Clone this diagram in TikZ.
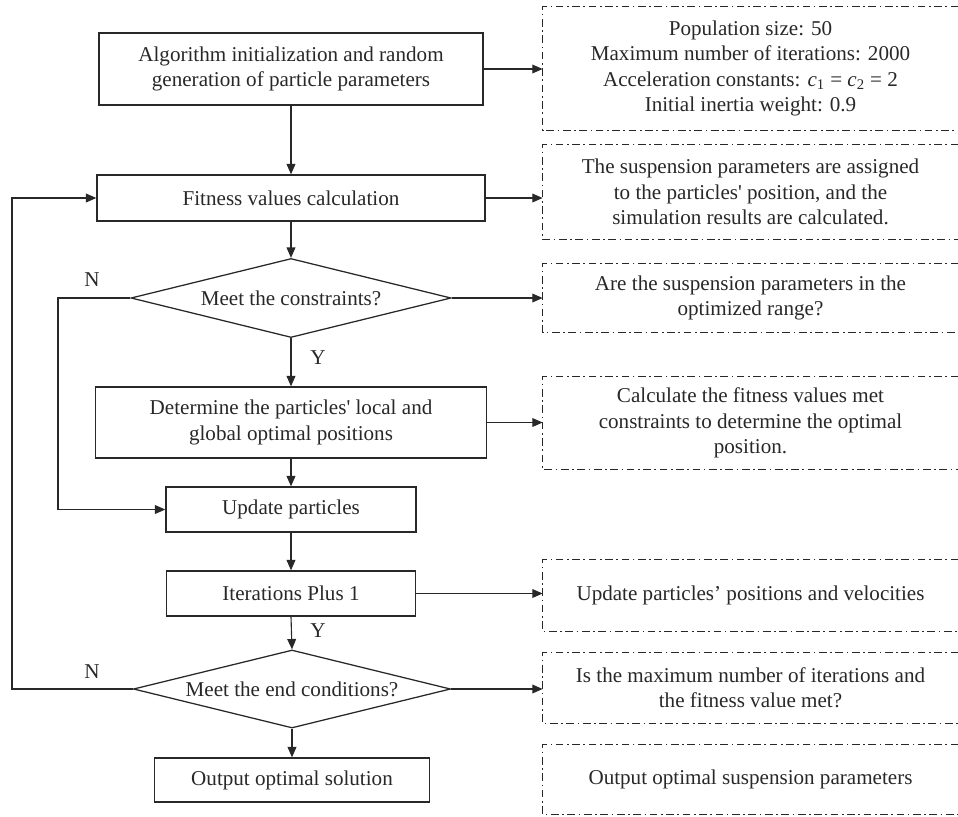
\documentclass[tikz,border=0pt]{standalone}
\usepackage{fontspec}
\setmainfont{Liberation Serif}
\usepackage{tikz}
\usetikzlibrary{arrows.meta,shapes.geometric,positioning}
\definecolor{lineColor}{RGB}{40,40,40}
\tikzstyle{flowChart} = [x = 0.025cm, y = -0.025cm, font=\fontsize{15}{18}\selectfont, every node/.style={text=lineColor}]
\tikzstyle{processBox} = [draw=lineColor, line width=0.9pt, rectangle, align=center, inner sep=0pt]
\tikzstyle{decisionShape} = [draw=lineColor, line width=0.9pt, diamond, aspect=4, inner sep=0pt]
\tikzstyle{noteText} = [rectangle, align=center, inner sep=0pt, minimum width=10.375cm]
\tikzstyle{noteBorder} = [draw=lineColor, line width=0.6pt, dash pattern=on 5.5pt off 2.5pt on 1.2pt off 2.5pt]
\tikzstyle{flowArrow} = [draw=lineColor, line width=0.8pt, -{Triangle[length=2.6mm, width=2.2mm]}]
\tikzstyle{branchLabel} = [inner sep=0pt]
\newcommand{\noteFrame}[1]{\draw [noteBorder] (#1.north east) -- (#1.north west) -- (#1.south west) -- (#1.south east);}
\newcommand{\accConst}[1]{\textit{c}\textsubscript{#1}}
\begin{document}
\begin{tikzpicture}[flowChart]
  \useasboundingbox (0,0) rectangle (958,816);

  \node [processBox, minimum width=9.6cm, minimum height=1.8cm] (init) at (291,69) {Algorithm initialization and random\\generation of particle parameters};
  \node [processBox, minimum width=9.7cm, minimum height=1.15cm] (fitness) at (291,198) {Fitness values calculation};
  \node [decisionShape, minimum width=8cm, minimum height=1.975cm] (constraints) at (291,298) {Meet the constraints?};
  \node [processBox, minimum width=9.775cm, minimum height=1.775cm] (determine) at (291,422.5) {Determine the particles\textquotesingle{} local and\\global optimal positions};
  \node [processBox, minimum width=6.25cm, minimum height=1.125cm] (update) at (291,509.5) {Update particles};
  \node [processBox, minimum width=6.225cm, minimum height=1.125cm] (iterations) at (291,593.5) {Iterations Plus 1};
  \node [decisionShape, minimum width=7.925cm, minimum height=1.95cm] (endCheck) at (292,689) {Meet the end conditions?};
  \node [processBox, minimum width=6.875cm, minimum height=1.1cm] (output) at (292,780) {Output optimal solution};

  \node [noteText, minimum height=3.075cm] (initNote) at (750.5,68.5) {Population size: 50\\Maximum number of iterations: 2000\\Acceleration constants: \accConst{1} = \accConst{2} = 2\\Initial inertia weight: 0.9};
  \node [noteText, minimum height=2.35cm] (fitnessNote) at (750.5,192) {The suspension parameters are assigned\\to the particles\textquotesingle{} position, and the\\simulation results are calculated.};
  \node [noteText, minimum height=1.7cm] (constraintsNote) at (750.5,298) {Are the suspension parameters in the\\optimized range?};
  \node [noteText, minimum height=2.3cm] (determineNote) at (750.5,423) {Calculate the fitness values met\\constraints to determine the optimal\\position.};
  \node [noteText, minimum height=1.775cm] (iterationsNote) at (750.5,595.5) {Update particles’ positions and velocities};
  \node [noteText, minimum height=1.75cm] (endNote) at (750.5,688) {Is the maximum number of iterations and\\the fitness value met?};
  \node [noteText, minimum height=1.725cm] (outputNote) at (750.5,779.5) {Output optimal suspension parameters};

  \foreach \note in {initNote,fitnessNote,constraintsNote,determineNote,iterationsNote,endNote,outputNote} {
    \noteFrame{\note}
  }

  \coordinate (constraintsCorner) at (58,298);
  \coordinate (endCorner) at (12,689);

  \draw [flowArrow] (init.south) -- (fitness.north);
  \draw [flowArrow] (fitness.south) -- (constraints.north);
  \draw [flowArrow] (constraints.south) -- (determine.north);
  \draw [flowArrow] (determine.south) -- (update.north);
  \draw [flowArrow] (update.south) -- (iterations.north);
  \draw [flowArrow] (iterations.south) -- (endCheck.north);
  \draw [flowArrow] (endCheck.south) -- (output.north);

  \draw [flowArrow] (init.east) -- (init.east -| initNote.west);
  \draw [flowArrow] (fitness.east) -- (fitness.east -| fitnessNote.west);
  \draw [flowArrow] (constraints.east) -- (constraints.east -| constraintsNote.west);
  \draw [flowArrow] (determine.east) -- (determine.east -| determineNote.west);
  \draw [flowArrow] (iterations.east) -- (iterations.east -| iterationsNote.west);
  \draw [flowArrow] (endCheck.east) -- (endCheck.east -| endNote.west);

  \draw [flowArrow] (constraints.west) -- (constraintsCorner) |- (update.west);
  \draw [flowArrow] (endCheck.west) -- (endCorner) |- (fitness.west);

  \node [branchLabel] (constraintsNo) at (92,280) {N};
  \node [branchLabel] (constraintsYes) at (318,358) {Y};
  \node [branchLabel] (iterationsYes) at (318,631) {Y};
  \node [branchLabel] (endNo) at (92,672) {N};
\end{tikzpicture}
\end{document}
